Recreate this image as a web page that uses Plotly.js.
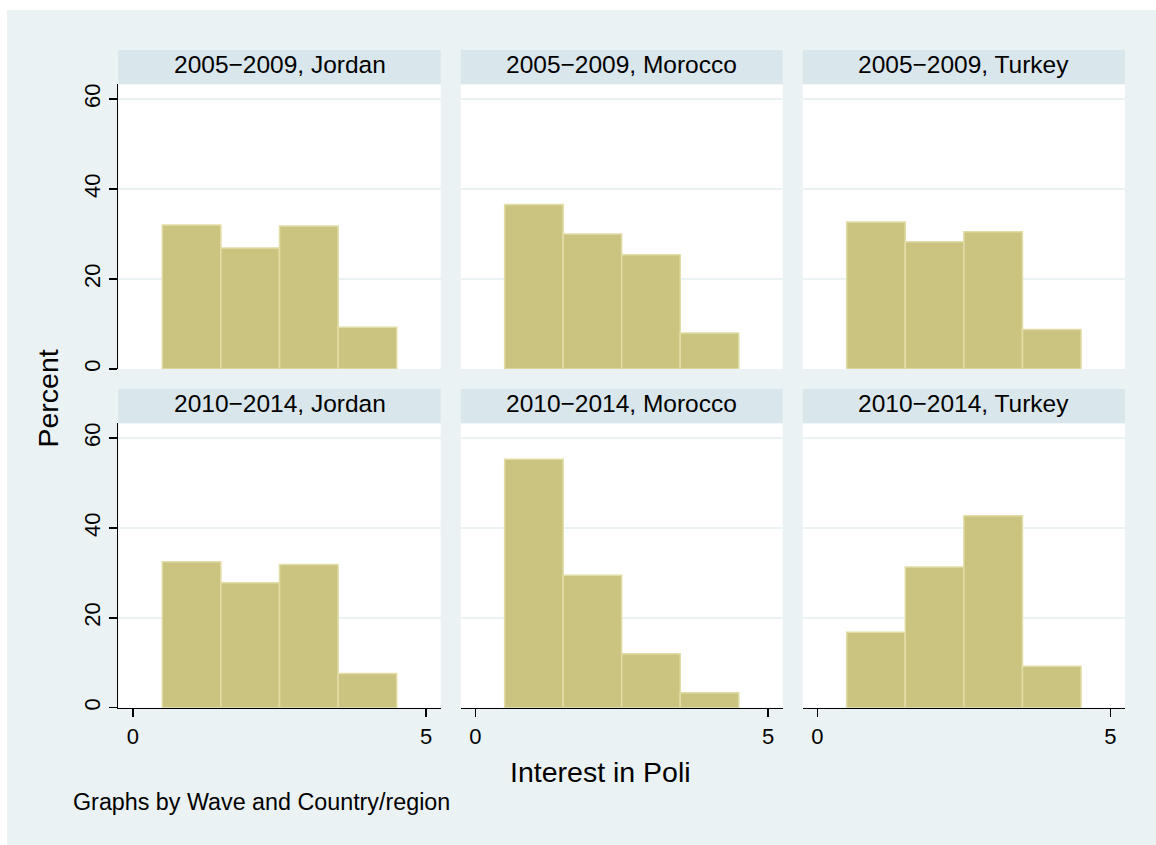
<!DOCTYPE html>
<html>
<head>
<meta charset="utf-8">
<script src="https://cdn.plot.ly/plotly-3.0.1.min.js"></script>
<style>
  html, body { margin: 0; padding: 0; background: #ffffff; width: 1156px; height: 845px; overflow: hidden; }
  #chart { position: absolute; left: 7px; top: 10px; width: 1149px; height: 835px; }
</style>
</head>
<body>
<div id="chart"></div>
<script>
// ---- data ----
const waves = ["2005\u22122009", "2010\u22122014"];
const countries = ["Jordan", "Morocco", "Turkey"];
const interestLevels = [1, 2, 3, 4];
const pct_2005_Jordan  = [32.0, 26.9, 31.8, 9.3];
const pct_2005_Morocco = [36.6, 30.0, 25.4, 8.0];
const pct_2005_Turkey  = [32.7, 28.3, 30.5, 8.8];
const pct_2010_Jordan  = [32.5, 27.8, 31.9, 7.6];
const pct_2010_Morocco = [55.3, 29.5, 12.0, 3.3];
const pct_2010_Turkey  = [16.8, 31.3, 42.7, 9.2];
const xTicks = [0, 5];
const yTicks = [0, 20, 40, 60];
const xTitle = "Interest in Poli";
const yTitle = "Percent";
const note = "Graphs by Wave and Country/region";

const panelValues = [
  [pct_2005_Jordan, pct_2005_Morocco, pct_2005_Turkey],
  [pct_2010_Jordan, pct_2010_Morocco, pct_2010_Turkey]
];

// ---- layout geometry (page pixels) ----
const OX = 7, OY = 10, W = 1149, H = 835;
const fx = X => (X - OX) / W;
const fy = Y => 1 - (Y - OY) / H;
const colX = [[118.3, 440.7], [460.7, 782.7], [802.7, 1125]];
const rowPlotY = [[84.3, 369], [423.3, 707.7]];
const rowStripY = [[50, 84.3], [389, 423.3]];

const FONT = "Liberation Sans, Arial, Helvetica, sans-serif";
const BG = "#eaf2f3";
const STRIP = "#d9e6eb";
const BAR = "#cbc380";
const BAR_LINE = "#e2dda6";

const traces = [];
const layout = {
  width: W, height: H,
  margin: {l: 0, r: 0, t: 0, b: 0},
  paper_bgcolor: BG,
  plot_bgcolor: "#ffffff",
  showlegend: false,
  bargap: 0,
  font: {family: FONT, color: "#000000", size: 22},
  shapes: [],
  annotations: []
};

let idx = 0;
for (let r = 0; r < 2; r++) {
  for (let c = 0; c < 3; c++) {
    idx++;
    const xa = idx === 1 ? "xaxis" : "xaxis" + idx;
    const ya = idx === 1 ? "yaxis" : "yaxis" + idx;
    const xr = idx === 1 ? "x" : "x" + idx;
    const yr = idx === 1 ? "y" : "y" + idx;
    traces.push({
      type: "bar",
      x: interestLevels,
      y: panelValues[r][c],
      width: 1,
      xaxis: xr, yaxis: yr,
      marker: {color: BAR, line: {color: BAR_LINE, width: 1.5}},
      hoverinfo: "x+y"
    });
    const bottom = r === 1;
    const left = c === 0;
    layout[xa] = {
      domain: [fx(colX[c][0]), fx(colX[c][1])],
      anchor: yr,
      range: [-0.25, 5.25],
      tickvals: xTicks,
      ticktext: xTicks.map(String),
      showticklabels: bottom,
      ticks: bottom ? "outside" : "",
      ticklen: 8, tickwidth: 1.5, tickcolor: "#000000",
      showline: bottom, linecolor: "#000000", linewidth: 1.5,
      showgrid: false, zeroline: false,
      tickfont: {size: 22, family: FONT, color: "#000000"},
      fixedrange: true
    };
    layout[ya] = {
      domain: [fy(rowPlotY[r][1]), fy(rowPlotY[r][0])],
      anchor: xr,
      range: [0, 63.3],
      tickvals: yTicks,
      ticktext: yTicks.map(String),
      showticklabels: left,
      tickangle: -90,
      ticks: left ? "outside" : "",
      ticklen: 8, tickwidth: 1.5, tickcolor: "#000000",
      showline: left, linecolor: "#000000", linewidth: 1.5,
      showgrid: true, gridcolor: BG, gridwidth: 1.5,
      zeroline: false,
      tickfont: {size: 22, family: FONT, color: "#000000"},
      fixedrange: true
    };
    // strip
    layout.shapes.push({
      type: "rect", xref: "paper", yref: "paper", layer: "below",
      x0: fx(colX[c][0]), x1: fx(colX[c][1]),
      y0: fy(rowStripY[r][1]), y1: fy(rowStripY[r][0]),
      fillcolor: STRIP, line: {width: 0}
    });
    layout.annotations.push({
      xref: "paper", yref: "paper",
      x: fx((colX[c][0] + colX[c][1]) / 2),
      y: fy((rowStripY[r][0] + rowStripY[r][1]) / 2 - 2.5),
      xanchor: "center", yanchor: "middle",
      text: waves[r] + ", " + countries[c],
      showarrow: false,
      font: {size: 24.5, family: FONT, color: "#000000"}
    });
  }
}

layout.annotations.push({
  xref: "paper", yref: "paper",
  x: fx(47.5), y: fy(399),
  xanchor: "center", yanchor: "middle",
  textangle: -90,
  text: yTitle, showarrow: false,
  font: {size: 28.5, family: FONT, color: "#000000"}
});
layout.annotations.push({
  xref: "paper", yref: "paper",
  x: fx(600.5), y: fy(772),
  xanchor: "center", yanchor: "middle",
  text: xTitle, showarrow: false,
  font: {size: 28.5, family: FONT, color: "#000000"}
});
layout.annotations.push({
  xref: "paper", yref: "paper",
  x: fx(70.5), y: fy(802),
  xanchor: "left", yanchor: "middle",
  text: note, showarrow: false,
  font: {size: 23.3, family: FONT, color: "#000000"}
});

Plotly.newPlot("chart", traces, layout, {staticPlot: true, displayModeBar: false});
</script>
</body>
</html>
